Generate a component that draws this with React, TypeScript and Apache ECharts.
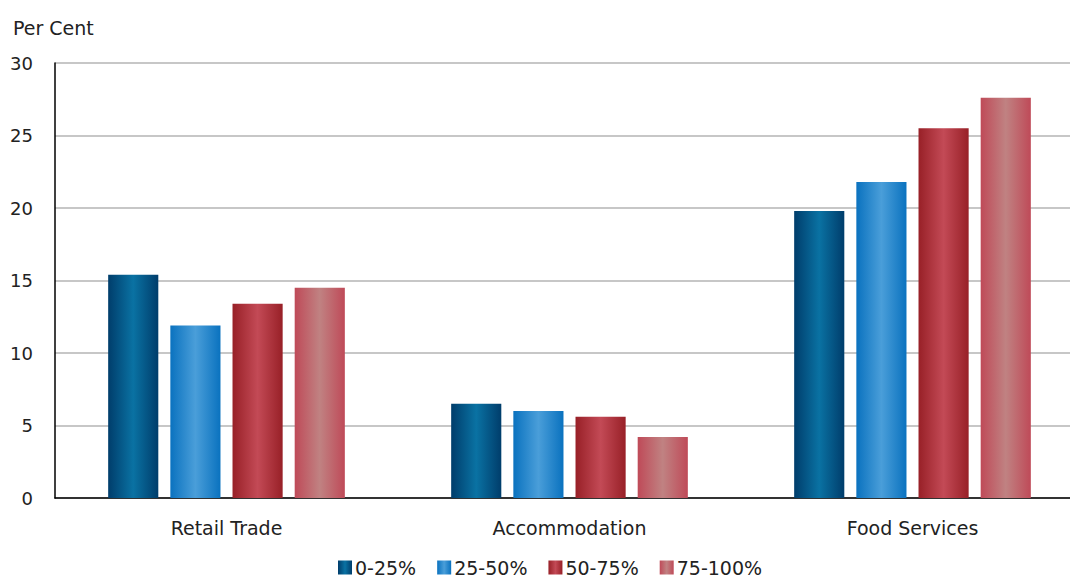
import React, { useEffect, useRef } from "react";
import * as echarts from "echarts";

const categories = ["Retail Trade", "Accommodation", "Food Services"];
const seriesNames = ["0-25%", "25-50%", "50-75%", "75-100%"];
const s0_25 = [15.4, 6.5, 19.8];
const s25_50 = [11.9, 6.0, 21.8];
const s50_75 = [13.4, 5.6, 25.5];
const s75_100 = [14.5, 4.2, 27.6];
const yTicks = [0, 5, 10, 15, 20, 25, 30];

const palettes = [
  ["#003d6b", "#0a72a3", "#003d6b"],
  ["#0a72bf", "#4a9ed9", "#0a72bf"],
  ["#982027", "#c34a56", "#982027"],
  ["#bf4a58", "#c08282", "#bf4a58"],
];

function grad(p: string[]) {
  return new echarts.graphic.LinearGradient(0, 0, 1, 0, [
    { offset: 0, color: p[0] },
    { offset: 0.5, color: p[1] },
    { offset: 1, color: p[2] },
  ]);
}

const FONT = "DejaVu Sans";

export default function App() {
  const ref = useRef<HTMLDivElement>(null);
  useEffect(() => {
    document.body.style.margin = "0";
    const chart = echarts.init(ref.current!, undefined, { renderer: "svg" });
    const data = [s0_25, s25_50, s50_75, s75_100];
    chart.setOption({
      animation: false,
      textStyle: { fontFamily: FONT },
      grid: { left: 55, width: 1029, top: 63, bottom: 77, outerBoundsMode: "none", containLabel: false },
      title: {
        text: "Per Cent",
        left: 8,
        top: 13,
        textStyle: { fontSize: 19, fontWeight: "normal", color: "#222", fontFamily: FONT },
      },
      legend: {
        data: seriesNames,
        bottom: -7,
        left: 333,
        itemWidth: 14,
        itemHeight: 14,
        itemGap: 21,
        icon: "rect",
        textStyle: { fontSize: 19, color: "#222", fontFamily: FONT, padding: [0, 0, 0, -2] },
      },
      xAxis: {
        type: "category",
        data: categories,
        axisLine: { lineStyle: { color: "#000", width: 1.5 } },
        axisTick: { show: false },
        axisLabel: { fontSize: 19, color: "#222", margin: 20 },
      },
      yAxis: {
        type: "value",
        min: yTicks[0],
        max: yTicks[yTicks.length - 1],
        interval: 5,
        axisLine: { show: true, lineStyle: { color: "#000", width: 1.5 } },
        axisTick: { show: false },
        axisLabel: { fontSize: 18, color: "#222", margin: 22 },
        splitLine: { lineStyle: { color: "#b5b5b5", width: 1.5 } },
      },
      series: seriesNames.map((name, i) => ({
        name,
        type: "bar",
        data: data[i],
        barGap: "24%",
        barCategoryGap: "31%",
        itemStyle: { color: grad(palettes[i]) },
      })),
    });
    return () => chart.dispose();
  }, []);
  return <div ref={ref} style={{ width: 1070, height: 575 }} />;
}
